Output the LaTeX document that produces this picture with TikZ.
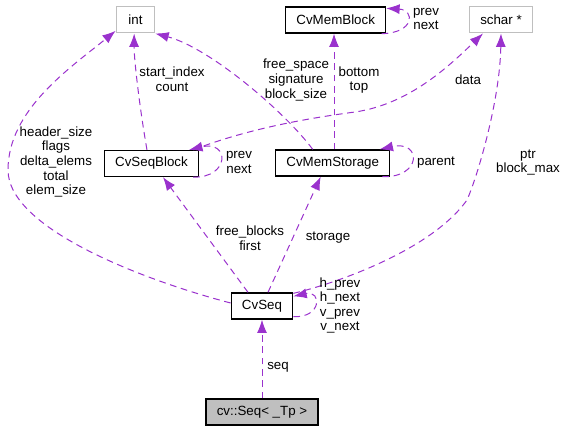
\documentclass[tikz,border=0pt]{standalone}
\usepackage{fontspec}
\setmainfont{Liberation Sans}
\usetikzlibrary{arrows.meta}

\definecolor{edgepurple}{HTML}{9A32CD}
\definecolor{boxgray}{HTML}{BFBFBF}

\tikzset{
  box/.style={draw=black, line width=1pt, fill=white, minimum height=19.5pt,
    minimum width=29pt, inner xsep=8pt, inner ysep=0pt, font=\fontsize{10}{12}\selectfont},
  extbox/.style={box, draw=boxgray, line width=0.75pt},
  mainbox/.style={box, fill=boxgray},
  edge/.style={draw=edgepurple, line width=0.75pt, dash pattern=on 5pt off 3.5pt,
    -{Latex[length=10pt,width=7.5pt]}},
  lbl/.style={align=center, inner sep=0pt, font=\fontsize{10}{10.9}\selectfont},
}

\begin{document}
\begin{tikzpicture}[x=0.75pt, y=-0.75pt]
      \useasboundingbox (0,0) rectangle (565,431);

      % classes
      \node[extbox] (int) at (135.5,20) {int};
      \node[box] (mb) at (335.7,20) {CvMemBlock};
      \node[extbox] (schar) at (501,20) {schar *};
      \node[box] (sb) at (151.5,163.5) {CvSeqBlock};
      \node[box] (ms) at (332.7,163) {CvMemStorage};
      \node[box] (cvseq) at (262,306) {CvSeq};
      \node[mainbox] (seqt) at (262,412) {cv::Seq< \_Tp >};

      % members
      \draw[edge] ([yshift=2.25pt]cvseq.west) .. controls (150,282) and (8,230) .. (8,170)
        .. controls (8,110) and (70,68) .. ([yshift=2pt]int.south west);
      \draw[edge] ([xshift=-3.4pt]sb.north) .. controls (140,110) and (134,60) .. ([xshift=-1pt]int.south);
      \draw[edge] ([xshift=-15pt]ms.north) .. controls (285,112) and (210,48) .. (int.south east);
      \draw[edge] ([xshift=1pt]ms.north) -- ([xshift=-1.25pt]mb.south);
      \draw[edge] ([xshift=-3.5pt]mb.south east) .. controls (415,33) and (415,10) .. ([yshift=-1.5pt]mb.north east);
      \draw[edge] ([xshift=-4.5pt]sb.north east) .. controls (250,128) and (310,118) .. (355,112)
        .. controls (410,104) and (450,65) .. ([xshift=-13.5pt]schar.south);
      \draw[edge] ([xshift=-4.5pt]sb.south east) .. controls (230,178) and (230,140) .. ([xshift=-7.5pt]sb.north east);
      \draw[edge] ([xshift=-6pt]ms.south east) .. controls (422,178) and (422,140) .. ([xshift=-8pt]ms.north east);
      \draw[edge] ([xshift=-10.5pt]cvseq.north) -- ([xshift=8.6pt]sb.south);
      \draw[edge] ([xshift=4.5pt]cvseq.north) -- ([xshift=-9pt]ms.south);
      \draw[edge] ([yshift=-0.75pt]cvseq.north east) .. controls (330,285) and (430,252) .. (467,200)
        .. controls (478,175) and (500,100) .. (schar.south);
      \draw[edge] ([yshift=2.25pt]cvseq.south east) .. controls (322,318) and (322,290) .. ([yshift=-3pt]cvseq.north east);
      \draw[edge] (seqt.north) -- (cvseq.south);

      % labels
      \node[lbl] (l-size) at (56,162) {header\_size\\flags\\delta\_elems\\total\\elem\_size};
      \node[lbl] (l-index) at (172,79.5) {start\_index\\count};
      \node[lbl] (l-space) at (296,80) {free\_space\\signature\\block\_size};
      \node[lbl] (l-bottom) at (359,80) {bottom\\top};
      \node[lbl] (l-mbprev) at (426,19) {prev\\next};
      \node[lbl] (l-data) at (468,80) {data};
      \node[lbl] (l-sbprev) at (239,162.5) {prev\\next};
      \node[lbl] (l-parent) at (436,163) {parent};
      \node[lbl] (l-ptr) at (528,162.5) {ptr\\block\_max};
      \node[lbl] (l-blocks) at (250,238) {free\_blocks\\first};
      \node[lbl] (l-storage) at (328,238) {storage};
      \node[lbl] (l-hprev) at (340,305.5) {h\_prev\\h\_next\\v\_prev\\v\_next};
      \node[lbl] (l-seq) at (278,367) {seq};
\end{tikzpicture}
\end{document}
